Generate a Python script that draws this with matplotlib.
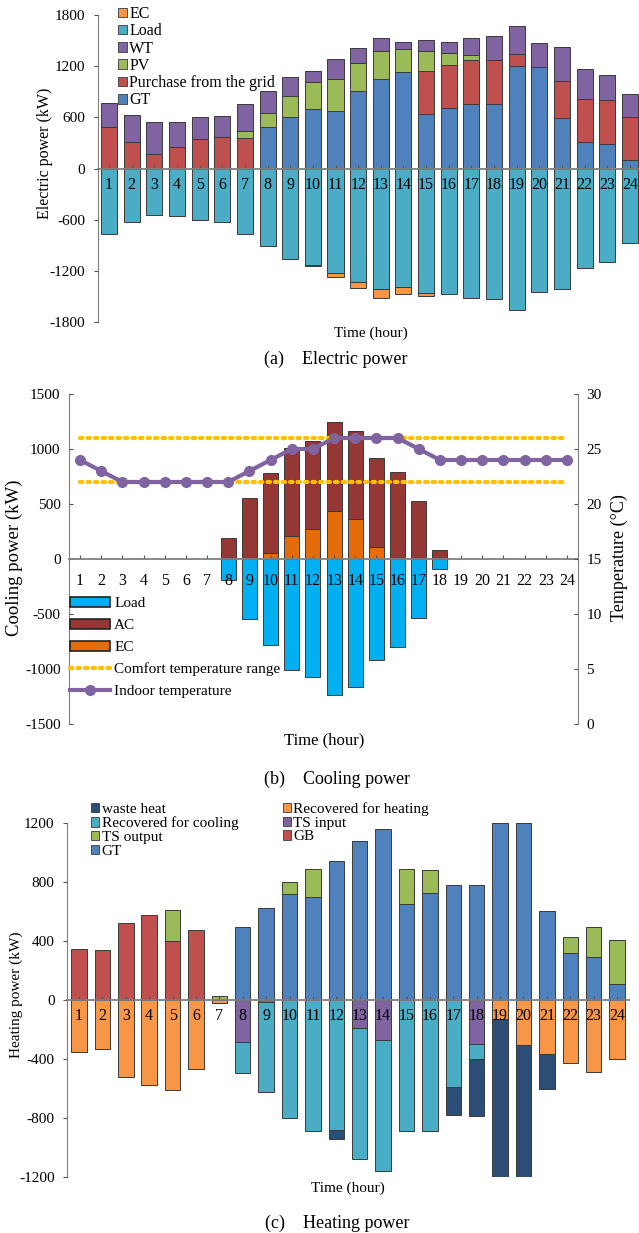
import matplotlib
matplotlib.use('Agg')
import matplotlib.pyplot as plt
import numpy as np
from matplotlib.patches import Patch
from matplotlib.lines import Line2D

plt.rcParams['font.family'] = ['Liberation Serif', 'DejaVu Serif']
plt.rcParams['font.size'] = 11
plt.rcParams['axes.unicode_minus'] = False

hours = np.arange(1, 25)

# (a) electric power, kW
gt_e = [0, 0, 0, 0, 0, 0, 0, 483, 609, 700, 676, 912, 1053, 1136, 637, 711, 759, 759, 1207, 1195, 594, 311, 287, 98]
grid = [483, 307, 169, 255, 346, 366, 358, 0, 0, 0, 0, 0, 0, 0, 507, 508, 511, 519, 141, 0, 432, 507, 511, 503]
pv = [0, 0, 0, 0, 0, 0, 78, 166, 240, 314, 374, 330, 327, 267, 236, 141, 66, 0, 0, 0, 0, 0, 0, 0]
wt = [287, 322, 377, 291, 255, 251, 323, 259, 220, 134, 235, 173, 153, 83, 122, 126, 197, 275, 319, 275, 397, 353, 303, 272]
load_e = [770, 627, 550, 557, 604, 627, 770, 914, 1065, 1135, 1231, 1328, 1417, 1386, 1463, 1475, 1521, 1533, 1661, 1452, 1409, 1161, 1099, 879]
ec_e = [0, 0, 0, 0, 0, 0, 0, 0, 0, 5, 47, 73, 97, 89, 27, 0, 0, 0, 0, 0, 0, 0, 0, 0]

# (b) cooling power, kW and indoor temperature
ec_c = [0, 0, 0, 0, 0, 0, 0, 0, 0, 52, 209, 273, 437, 361, 112, 0, 0, 0, 0, 0, 0, 0, 0, 0]
ac = [0, 0, 0, 0, 0, 0, 0, 188, 555, 727, 804, 803, 806, 807, 807, 792, 527, 82, 0, 0, 0, 0, 0, 0]
load_c = [0, 0, 0, 0, 0, 0, 0, 190, 548, 783, 1009, 1069, 1238, 1163, 922, 798, 536, 87, 0, 0, 0, 0, 0, 0]
temp_in = [24, 23, 22, 22, 22, 22, 22, 22, 23, 24, 25, 25, 26, 26, 26, 26, 25, 24, 24, 24, 24, 24, 24, 24]
comfort = [22, 26]

# (c) heating power, kW
gb = [348, 339, 525, 575, 402, 473, 0, 0, 0, 0, 0, 0, 0, 0, 0, 0, 0, 0, 0, 0, 0, 0, 0, 0]
gt_h = [0, 0, 0, 0, 0, 0, 0, 495, 623, 720, 698, 941, 1080, 1161, 650, 727, 782, 782, 1200, 1200, 602, 320, 293, 109]
ts_out = [0, 0, 0, 0, 207, 0, 27, 0, 0, 78, 191, 0, 0, 0, 236, 157, 0, 0, 0, 0, 0, 105, 200, 296]
ts_in = [0, 0, 0, 0, 0, 0, 0, 285, 14, 0, 0, 0, 192, 272, 0, 0, 0, 297, 0, 0, 0, 0, 0, 0]
rec_heat = [351, 335, 525, 573, 611, 471, 23, 0, 0, 0, 0, 0, 0, 0, 0, 0, 0, 0, 127, 306, 367, 426, 487, 401]
rec_cool = [0, 0, 0, 0, 0, 0, 0, 213, 609, 799, 885, 883, 886, 889, 885, 885, 589, 101, 0, 0, 0, 0, 0, 0]
waste = [0, 0, 0, 0, 0, 0, 0, 0, 0, 0, 0, 59, 0, 0, 0, 0, 192, 388, 1073, 894, 235, 0, 0, 0]

EDGE = '#3a3a3a'
W, H = 639, 1233
fig = plt.figure(figsize=(W / 100, H / 100), dpi=100)


def px_axes(l, t, r, b):
    return fig.add_axes([l / W, 1 - b / H, (r - l) / W, (b - t) / H])


def stack(ax, series, colors, width, sign=1):
    base = np.zeros(24)
    for vals, col in zip(series, colors):
        v = np.array(vals, dtype=float) * sign
        m = v != 0
        ax.bar(hours[m], v[m], width, bottom=base[m], color=col,
               edgecolor=EDGE, linewidth=0.7, zorder=2)
        base = base + v


def style(ax, pad):
    ax.set_axisbelow(False)
    for s in ['top', 'right']:
        ax.spines[s].set_visible(False)
    ax.spines['bottom'].set_position(('data', 0))
    ax.spines['bottom'].set_color('#7f7f7f')
    ax.spines['bottom'].set_linewidth(1.3)
    ax.spines['bottom'].set_zorder(3)
    ax.spines['left'].set_color('#7f7f7f')
    ax.set_xticks(hours)
    ax.tick_params(axis='x', direction='in', length=3, pad=pad, color='#555555', labelsize=11.5)
    ax.tick_params(axis='y', direction='out', length=3, pad=6, color='#555555', labelsize=11)


# ---------- (a) electric power
ax1 = px_axes(98, 15, 639, 322)
stack(ax1, [gt_e, grid, pv, wt], ['#4F81BD', '#C0504D', '#9BBB59', '#8064A2'], 0.71)
stack(ax1, [load_e, ec_e], ['#4BACC6', '#F79646'], 0.71, sign=-1)
ax1.set_xlim(0.514, 24.4)
ax1.set_ylim(-1800, 1800)
ax1.set_yticks(np.arange(-1800, 1801, 600))
style(ax1, 6)
h1 = [Patch(facecolor=c, edgecolor=EDGE, linewidth=0.6) for c in
      ['#F79646', '#4BACC6', '#8064A2', '#9BBB59', '#C0504D', '#4F81BD']]
fig.legend(h1, ['EC', 'Load', 'WT', 'PV', 'Purchase from the grid', 'GT'],
           loc='upper left', bbox_to_anchor=(118 / W, 1 - 6 / H), frameon=False,
           fontsize=11.5, handlelength=0.55, handleheight=0.55, handletextpad=0.15,
           labelspacing=0.08, borderpad=0, borderaxespad=0)
fig.text(45 / W, 1 - 153 / H, 'Electric power (kW)', rotation=90, ha='center', va='center', fontsize=11.5)
fig.text(371 / W, 1 - 333 / H, 'Time (hour)', ha='center', va='center', fontsize=11)
fig.text(336 / W, 1 - 359 / H, '(a)    Electric power', ha='center', va='center', fontsize=13)

# ---------- (b) cooling power
ax2 = px_axes(69, 394, 578, 724)
stack(ax2, [ec_c, ac], ['#E46C0A', '#953735'], 0.71)
stack(ax2, [load_c], ['#00B0F0'], 0.71, sign=-1)
ax2.set_xlim(0.48, 24.52)
ax2.set_ylim(-1500, 1500)
ax2.set_yticks(np.arange(-1500, 1501, 500))
style(ax2, 10)
ax2.tick_params(axis='y', direction='in')
ax2r = ax2.twinx()
ax2r.set_ylim(0, 30)
ax2r.set_yticks(np.arange(0, 31, 5))
for s in ['top', 'left', 'bottom']:
    ax2r.spines[s].set_visible(False)
ax2r.spines['right'].set_color('#7f7f7f')
ax2r.tick_params(axis='y', direction='in', length=3, pad=6, color='#555555', labelsize=11)
for c in comfort:
    ax2r.plot(hours, [c] * 24, linestyle=(0, (0.6, 1.2)), color='#FFC000',
              linewidth=3, dash_capstyle='round', zorder=4)
ax2r.plot(hours, temp_in, color='#8064A2', linewidth=3, marker='o', markersize=7, zorder=5)
h2 = [Patch(facecolor='#00B0F0', edgecolor='#222222', linewidth=1.2),
      Patch(facecolor='#953735', edgecolor='#222222', linewidth=1.2),
      Patch(facecolor='#E46C0A', edgecolor='#222222', linewidth=1.2),
      Line2D([], [], linestyle=(0, (0.6, 1.2)), color='#FFC000', linewidth=3, dash_capstyle='round'),
      Line2D([], [], color='#8064A2', linewidth=3, marker='o', markersize=7)]
fig.legend(h2, ['Load', 'AC', 'EC', 'Comfort temperature range', 'Indoor temperature'],
           loc='upper left', bbox_to_anchor=(70 / W, 1 - 597 / H), frameon=False,
           fontsize=11, handlelength=2.6, handleheight=0.65, handletextpad=0.3,
           labelspacing=0.55, borderpad=0, borderaxespad=0)
fig.text(14 / W, 1 - 558 / H, 'Cooling power (kW)', rotation=90, ha='center', va='center', fontsize=13.5)
fig.text(619 / W, 1 - 558 / H, 'Temperature (°C)', rotation=90, ha='center', va='center', fontsize=13)
fig.text(324 / W, 1 - 740 / H, 'Time (hour)', ha='center', va='center', fontsize=12)
fig.text(337 / W, 1 - 779 / H, '(b)    Cooling power', ha='center', va='center', fontsize=13)

# ---------- (c) heating power
ax3 = px_axes(67, 823, 629, 1177)
stack(ax3, [gb, gt_h, ts_out], ['#C0504D', '#4F81BD', '#9BBB59'], 0.66)
stack(ax3, [ts_in, rec_heat, rec_cool, waste], ['#8064A2', '#F79646', '#4BACC6', '#2C4D75'], 0.66, sign=-1)
ax3.set_xlim(0.487, 24.51)
ax3.set_ylim(-1200, 1200)
ax3.set_yticks(np.arange(-1200, 1201, 400))
style(ax3, 6)
h3 = [Patch(facecolor=c, edgecolor=EDGE, linewidth=0.6) for c in
      ['#2C4D75', '#4BACC6', '#9BBB59', '#4F81BD', '#F79646', '#8064A2', '#C0504D']]
fig.legend(h3, ['waste heat', 'Recovered for cooling', 'TS output', 'GT',
                'Recovered for heating', 'TS input', 'GB'],
           loc='upper left', bbox_to_anchor=(91 / W, 1 - 802 / H), ncol=2, frameon=False,
           fontsize=11, handlelength=0.55, handleheight=0.55, handletextpad=0.15,
           labelspacing=0.05, columnspacing=2.9, borderpad=0, borderaxespad=0)
fig.text(16 / W, 1 - 995 / H, 'Heating power (kW)', rotation=90, ha='center', va='center', fontsize=11)
fig.text(348 / W, 1 - 1188 / H, 'Time (hour)', ha='center', va='center', fontsize=11)
fig.text(337 / W, 1 - 1223 / H, '(c)    Heating power', ha='center', va='center', fontsize=13)

fig.savefig('out.png', dpi=100)
